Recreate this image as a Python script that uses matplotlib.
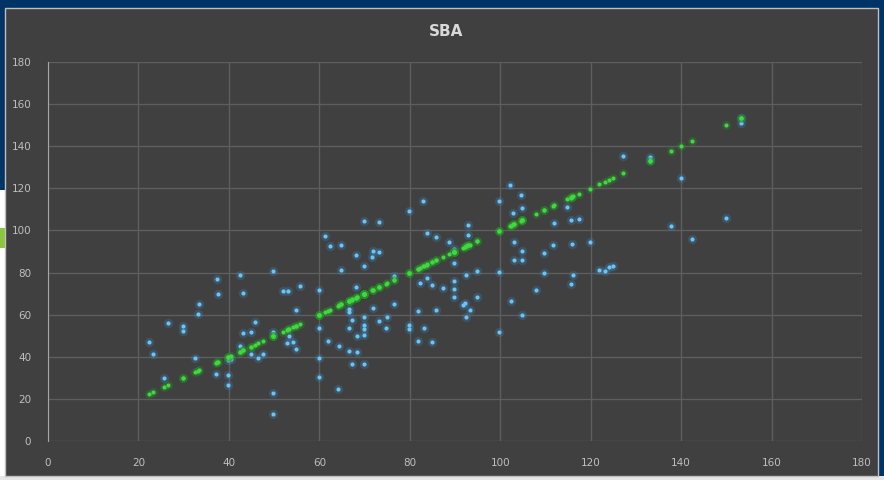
import numpy as np
import matplotlib
matplotlib.use("Agg")
import matplotlib.pyplot as plt
from matplotlib.patches import Rectangle

obs_x = [37.3, 42.5, 49.8, 37.7, 43.2, 33.5, 33.2, 51.9, 53.1, 55.7,
         59.9, 54.8, 26.5, 29.9, 29.9, 22.4, 23.2, 45.8, 43.2, 44.8,
         49.8, 53.2, 52.8, 54.2, 54.8, 59.9, 61.9, 42.5, 32.6, 39.8,
         40.5, 44.8, 46.4, 47.5, 25.6, 37.2, 39.8, 39.8, 49.8, 49.8,
         59.9, 59.9, 83.0, 79.8, 69.9, 73.1, 61.3, 62.4, 64.9, 68.1,
         71.9, 73.1, 71.7, 69.9, 64.9, 83.7, 85.8, 88.7, 92.9, 92.9,
         89.8, 92.4, 94.9, 83.9, 82.3, 85.0, 87.4, 89.8, 89.8, 89.8,
         94.9, 92.2, 91.8, 93.3, 92.4, 68.1, 76.5, 66.5, 66.5, 71.9,
         76.5, 81.9, 85.8, 67.2, 69.9, 69.9, 73.1, 74.9, 66.6, 74.7,
         68.3, 69.9, 79.8, 79.8, 83.1, 81.9, 85.0, 64.4, 66.6, 68.3,
         67.3, 69.9, 64.2, 102.2, 104.6, 99.8, 102.9, 104.9, 114.8, 111.9,
         115.6, 117.5, 103.1, 104.9, 103.1, 104.9, 111.6, 109.7, 115.8, 119.9,
         89.8, 99.8, 109.7, 116.2, 115.7, 107.9, 102.3, 104.8, 99.8, 121.9,
         153.2, 153.2, 127.2, 133.1, 133.1, 139.9, 149.9, 137.8, 142.5, 123.2,
         124.1, 125.0, 69.9]
sba_y = [76.8, 78.7, 80.9, 69.7, 70.3, 65.2, 60.4, 71.1, 71.1, 73.7,
         71.7, 62.3, 55.9, 54.5, 52.2, 47.2, 41.2, 56.6, 51.1, 51.6,
         51.6, 49.7, 46.4, 47.2, 43.8, 53.8, 47.6, 45.3, 39.3, 38.5,
         38.8, 41.2, 39.3, 41.2, 30.1, 31.7, 31.2, 26.7, 22.8, 12.7,
         39.6, 30.5, 114.1, 109.4, 104.6, 104.0, 97.5, 92.7, 93.2, 88.5,
         90.4, 89.9, 87.5, 83.1, 81.2, 98.6, 96.9, 94.3, 102.7, 98.0,
         84.7, 79.0, 80.9, 77.4, 75.0, 74.2, 72.5, 76.0, 72.0, 68.5,
         68.2, 65.4, 64.4, 62.2, 59.1, 73.3, 78.5, 62.5, 61.1, 63.0,
         65.1, 61.9, 62.1, 57.5, 58.7, 55.1, 57.2, 59.1, 53.5, 53.5,
         50.0, 50.3, 55.1, 53.0, 53.8, 47.3, 46.9, 45.1, 42.9, 42.4,
         36.7, 36.6, 24.7, 121.4, 117.0, 114.1, 108.4, 110.5, 111.1, 103.3,
         104.9, 105.3, 94.6, 90.1, 86.2, 85.9, 93.2, 89.1, 93.7, 94.5,
         91.0, 80.2, 79.6, 78.7, 74.5, 71.6, 66.5, 59.7, 51.8, 81.2,
         153.2, 151.1, 135.5, 135.0, 133.4, 124.7, 105.7, 102.1, 95.8, 80.9,
         82.8, 83.3, 53.0]

# green series: observed plotted against itself
ref_x = obs_x
ref_y = obs_x

ticks = [0, 20, 40, 60, 80, 100, 120, 140, 160, 180]

fig = plt.figure(figsize=(8.84, 4.8), dpi=100, facecolor="#003466")

# slide bits around the chart
fig.patches.append(Rectangle((0, 0), 5 / 884, 290 / 480, transform=fig.transFigure,
                             facecolor="white", edgecolor="none", zorder=0))
fig.patches.append(Rectangle((0, 232 / 480), 7 / 884, 20 / 480, transform=fig.transFigure,
                             facecolor="#8cc63f", edgecolor="none", zorder=0))
fig.patches.append(Rectangle((0, 0), 1, 4 / 480, transform=fig.transFigure,
                             facecolor="#e6e6e6", edgecolor="none", zorder=0))
fig.patches.append(Rectangle((5 / 884, 4 / 480), 873 / 884, 468 / 480, transform=fig.transFigure,
                             facecolor="#404040", edgecolor="#bfbfbf", linewidth=1, zorder=1))

ax = fig.add_axes([48 / 884, 39 / 480, 814 / 884, 379 / 480])
ax.set_facecolor("#404040")
ax.set_zorder(2)

ax.scatter(obs_x, sba_y, s=45, color="#3a8fd0", alpha=0.25, linewidths=0, zorder=3)
ax.scatter(obs_x, sba_y, s=9, color="#6cc4f0", linewidths=0, zorder=4)
ax.scatter(ref_x, ref_y, s=40, color="#22a022", alpha=0.3, linewidths=0, zorder=5)
ax.scatter(ref_x, ref_y, s=9, color="#44d444", linewidths=0, zorder=6)

ax.set_xlim(0, 180)
ax.set_ylim(0, 180)
ax.set_xticks(ticks)
ax.set_yticks(ticks)
ax.grid(True, color="#5e5e5e", linewidth=1)
ax.set_axisbelow(True)
for side in ["top", "right", "bottom"]:
    ax.spines[side].set_visible(False)
ax.spines["left"].set_color("#a6a6a6")
ax.tick_params(length=0, colors="#bfbfbf", labelsize=7.5)
ax.tick_params(axis="x", pad=12)
ax.tick_params(axis="y", pad=12)

fig.text(446 / 884, 1 - 31 / 480, "SBA", ha="center", va="center",
         color="#d9d9d9", fontsize=11, fontweight="bold")

fig.savefig("out.png", dpi=100, facecolor=fig.get_facecolor())
